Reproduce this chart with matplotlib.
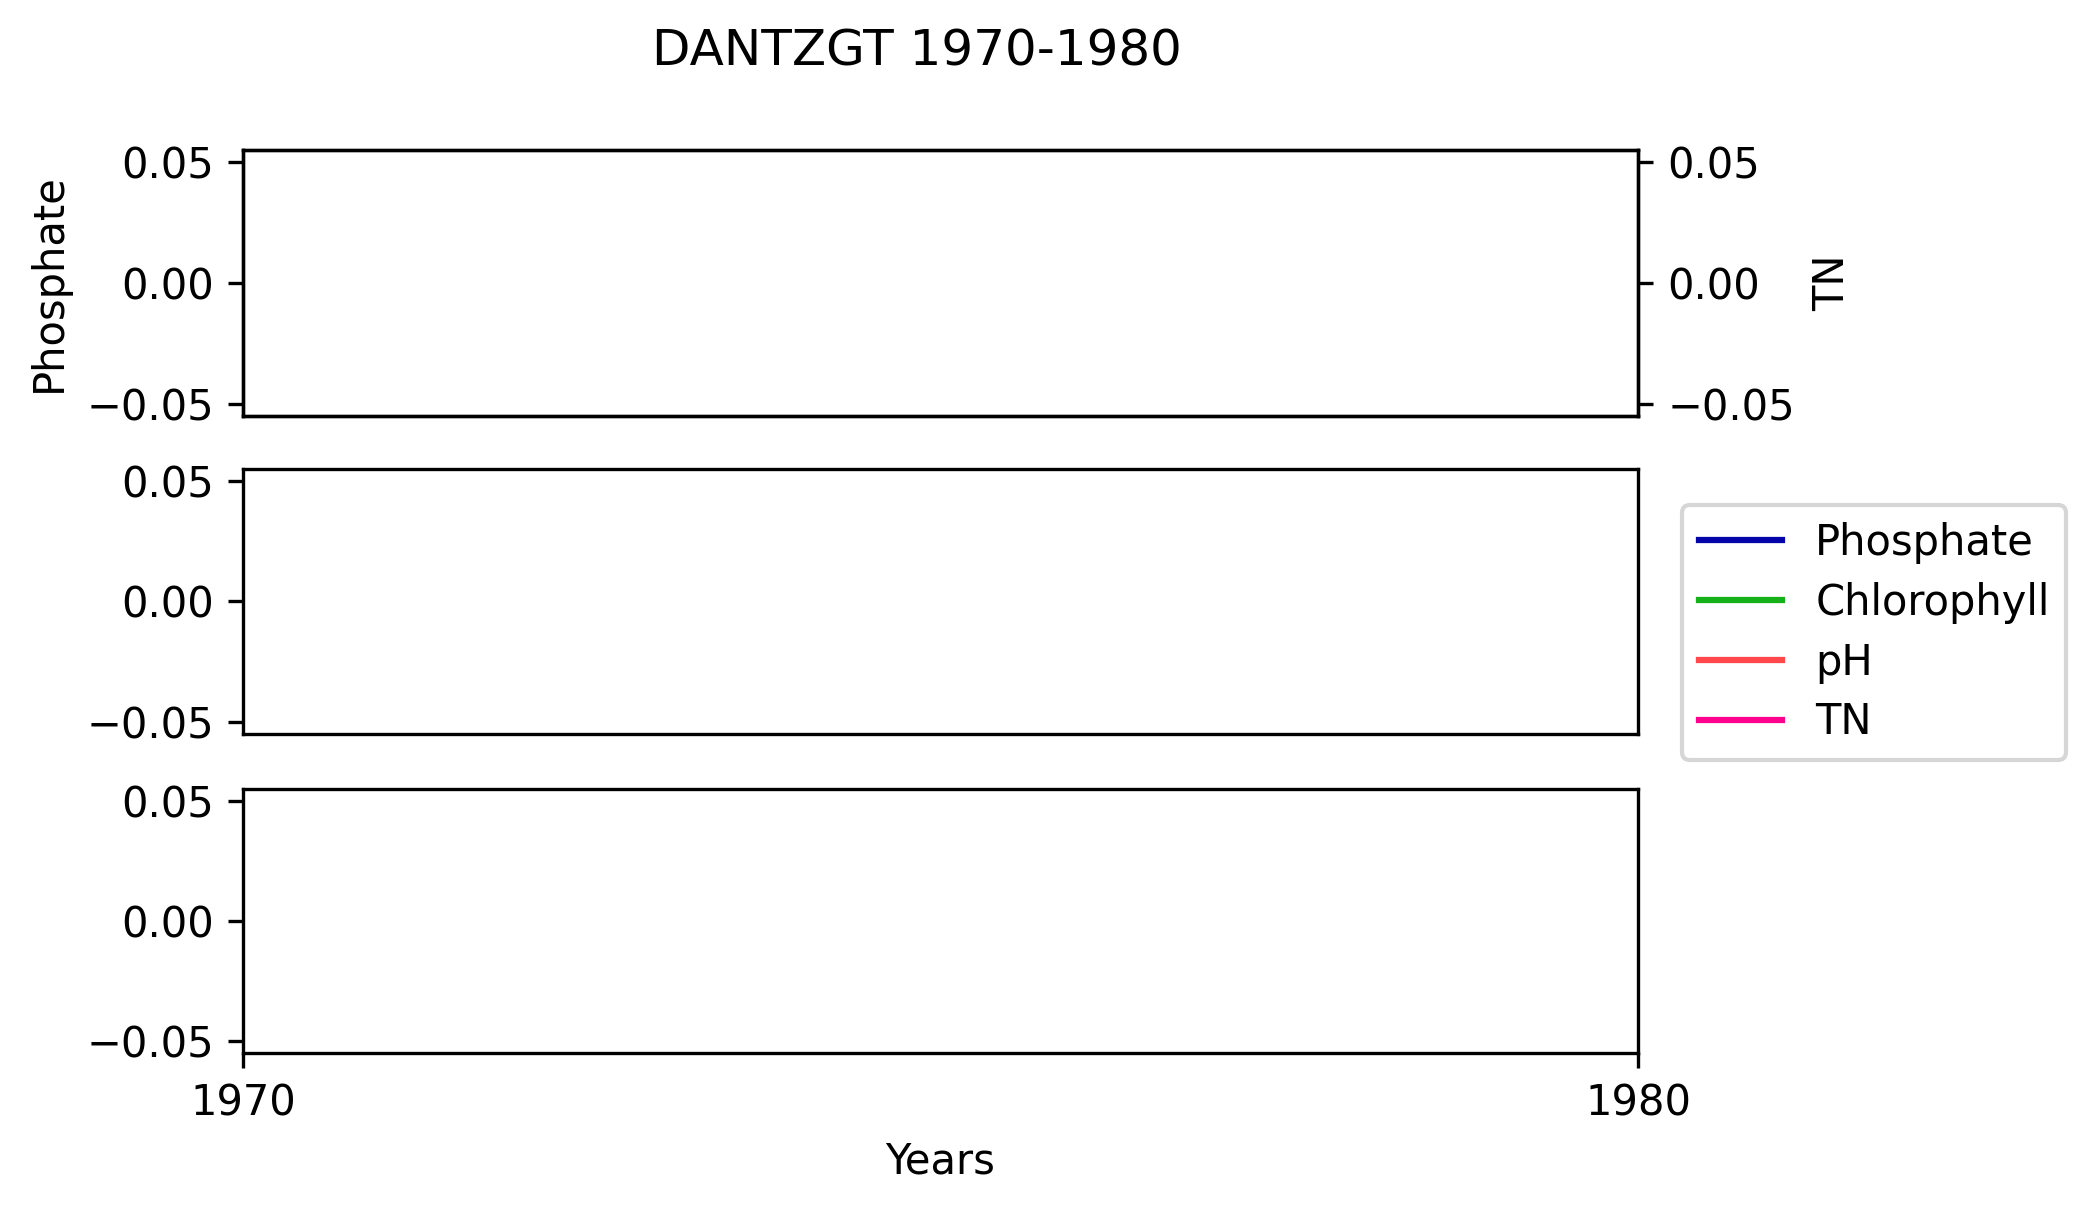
import matplotlib

matplotlib.use("Agg")
import matplotlib.pyplot as plt

# Данные (в исходном графике точек нет — серии пустые)
years = []
phosphate = []
chlorophyll = []
ph_values = []
tn_values = []

series_names = ["Phosphate", "Chlorophyll", "pH", "TN"]
series_colors = ["#0504AA", "#15B01A", "#FF474C", "#FF028D"]
x_ticks = [1970, 1980]
title = "DANTZGT 1970-1980"

W, H = 2097, 1211
fig = plt.figure(figsize=(W / 300, H / 300), dpi=300)
fig.patch.set_facecolor("white")

left, right = 243 / W, 1638 / W
rows = [(150, 416), (469, 734), (789, 1053)]
axes = []
for top, bottom in rows:
    ax = fig.add_axes([left, 1 - bottom / H, right - left, (bottom - top) / H])
    axes.append(ax)

ax1, ax2, ax3 = axes
ax1t = ax1.twinx()

l1, = ax1.plot(years, phosphate, color=series_colors[0], label=series_names[0])
l2, = ax2.plot(years, chlorophyll, color=series_colors[1], label=series_names[1])
l3, = ax3.plot(years, ph_values, color=series_colors[2], label=series_names[2])
l4, = ax1t.plot(years, tn_values, color=series_colors[3], label=series_names[3])

for ax in axes + [ax1t]:
    ax.set_xlim(x_ticks[0], x_ticks[-1])
    ax.set_ylim(-0.055, 0.055)
    ax.set_yticks([-0.05, 0.0, 0.05])

for ax in (ax1, ax2):
    ax.set_xticks([])
ax3.set_xticks(x_ticks)
ax3.set_xlabel("Years")

ax1.set_ylabel("Phosphate")
ax1t.set_ylabel("TN")

fig.text(917 / W, 1 - 51 / H, title, ha="center", va="center", fontsize=12)

fig.legend(
    handles=[l1, l2, l3, l4],
    loc="upper left",
    bbox_to_anchor=(1682 / W, 1 - 505 / H),
    borderaxespad=0,
    labelspacing=0.43,
)

plt.savefig("out.png", dpi=300, facecolor="white")
plt.close(fig)
